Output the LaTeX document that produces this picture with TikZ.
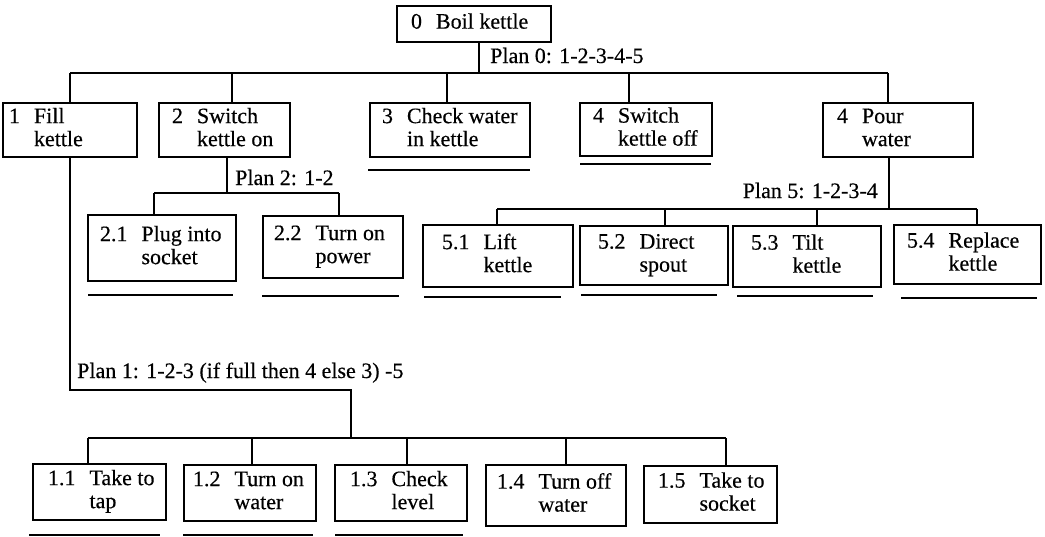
\documentclass[tikz,border=0pt]{standalone}
\usepackage{fontspec}
\setmainfont[FakeBold=0.4]{Liberation Serif}
\begin{document}
\begin{tikzpicture}[x=1pt,y=-1pt,
  tbox/.style={draw, line width=1.8pt, inner sep=0pt, rectangle},
  plan/.style={inner sep=0pt, font=\fontsize{22}{23}\selectfont},
  conn/.style={line width=1.8pt},
  uline/.style={line width=2pt}]
\fontsize{22}{23}\selectfont
\useasboundingbox (0,0) rectangle (1045,536);
\newcommand{\tk}[8]{%
 \pgfmathsetmacro\cx{(#2+#4)/2}\pgfmathsetmacro\cy{(#3+#5)/2}%
 \pgfmathsetmacro\ww{#4-#2}\pgfmathsetmacro\hh{#5-#3}%
 \node[tbox, minimum height=\hh pt] (#1) at (\cx,\cy)
   {\makebox[\ww pt][l]{\hspace{#6pt}\begin{tabular}{@{}l@{\hspace{14pt}}l@{}}#7 & #8\end{tabular}}};}
% boxes
\tk{n0}{397}{6}{551}{42}{14}{0}{Boil kettle}
\tk{n1}{3}{103}{137}{157}{6}{1}{Fill\\ & kettle}
\tk{n2}{159}{103}{290}{157}{13}{2}{Switch\\ & kettle on}
\tk{n3}{370}{103}{530}{157}{12}{3}{Check water\\ & in kettle}
\tk{n4}{580}{103}{712}{156}{13}{4}{Switch\\ & kettle off}
\tk{n5}{823}{103}{973}{157}{14}{4}{Pour\\ & water}
\tk{n21}{88}{215}{236}{281}{12}{2.1}{Plug into\\ & socket}
\tk{n22}{263}{216}{403}{278}{11}{2.2}{Turn on\\ & power}
\tk{n51}{423}{225}{573}{287}{19}{5.1}{Lift\\ & kettle}
\tk{n52}{580}{226}{728}{285}{18}{5.2}{Direct\\ & spout}
\tk{n53}{733}{226}{881}{287}{18}{5.3}{Tilt\\ & kettle}
\tk{n54}{894}{225}{1041}{284}{13}{5.4}{Replace\\ & kettle}
\tk{n11}{33}{464}{166}{520}{15}{1.1}{Take to\\ & tap}
\tk{n12}{184}{465}{316}{521}{9}{1.2}{Turn on\\ & water}
\tk{n13}{335}{465}{467}{521}{15}{1.3}{Check\\ & level}
\tk{n14}{486}{465}{626}{526}{11}{1.4}{Turn off\\ & water}
\tk{n15}{644}{466}{777}{523}{14}{1.5}{Take to\\ & socket}
% plan labels
\node[plan, anchor=base west] (p0) at (490,63) {Plan 0: 1-2-3-4-5};
\node[plan, anchor=base west] (p2) at (235,185) {Plan 2: 1-2};
\node[plan, anchor=base east] (p5) at (878,198) {Plan 5: 1-2-3-4};
\node[plan, anchor=base west] (p1) at (77,378) {Plan 1: 1-2-3 (if full then 4 else 3) -5};
% level 0 -> 1
\coordinate (b0) at (479,73);
\coordinate (b0L) at (70,73);
\coordinate (b0R) at (888,73);
\draw[conn] (n0.south -| b0) -- (b0);
\draw[conn] (b0L) -- (b0R);
\draw[conn] (b0L) -- (b0L |- n1.north);
\draw[conn] (232,73) coordinate (d2) -- (d2 |- n2.north);
\draw[conn] (447,73) coordinate (d3) -- (d3 |- n3.north);
\draw[conn] (629,73) coordinate (d4) -- (d4 |- n4.north);
\draw[conn] (b0R) -- (b0R |- n5.north);
% box 2 -> 2.x
\coordinate (b2) at (227,193);
\coordinate (b2L) at (154,193);
\coordinate (b2R) at (339,193);
\draw[conn] (n2.south -| b2) -- (b2);
\draw[conn] (b2L) -- (b2R);
\draw[conn] (b2L) -- (b2L |- n21.north);
\draw[conn] (b2R) -- (b2R |- n22.north);
% box 5 -> 5.x
\coordinate (b5) at (889,209);
\coordinate (b5L) at (497,209);
\coordinate (b5R) at (977,209);
\draw[conn] (n5.south -| b5) -- (b5);
\draw[conn] (b5L) -- (b5R);
\draw[conn] (b5L) -- (b5L |- n51.north);
\draw[conn] (665,209) coordinate (d52) -- (d52 |- n52.north);
\draw[conn] (817,209) coordinate (d53) -- (d53 |- n53.north);
\draw[conn] (b5R) -- (b5R |- n54.north);
% box 1 -> 1.x
\coordinate (k1) at (70,390);
\coordinate (k2) at (351,390);
\coordinate (b1) at (351,438);
\coordinate (b1L) at (88,438);
\coordinate (b1R) at (726,438);
\draw[conn] (n1.south -| k1) -- (k1) -- (k2) -- (b1);
\draw[conn] (b1L) -- (b1R);
\draw[conn] (b1L) -- (b1L |- n11.north);
\draw[conn] (252,438) coordinate (d12) -- (d12 |- n12.north);
\draw[conn] (407,438) coordinate (d13) -- (d13 |- n13.north);
\draw[conn] (566,438) coordinate (d14) -- (d14 |- n14.north);
\draw[conn] (b1R) -- (b1R |- n15.north);
% underlines
\draw[uline] (368,170) -- (530,170);
\draw[uline] (580,164) -- (711,164);
\draw[uline] (88,295) -- (233,295);
\draw[uline] (262,296) -- (399,296);
\draw[uline] (424,297) -- (561,297);
\draw[uline] (581,295) -- (717,295);
\draw[uline] (737,296) -- (873,296);
\draw[uline] (901,298) -- (1037,298);
\draw[uline] (29,534.5) -- (160,534.5);
\draw[uline] (183,534.5) -- (313,534.5);
\draw[uline] (335,534.5) -- (463,534.5);
\end{tikzpicture}
\end{document}
